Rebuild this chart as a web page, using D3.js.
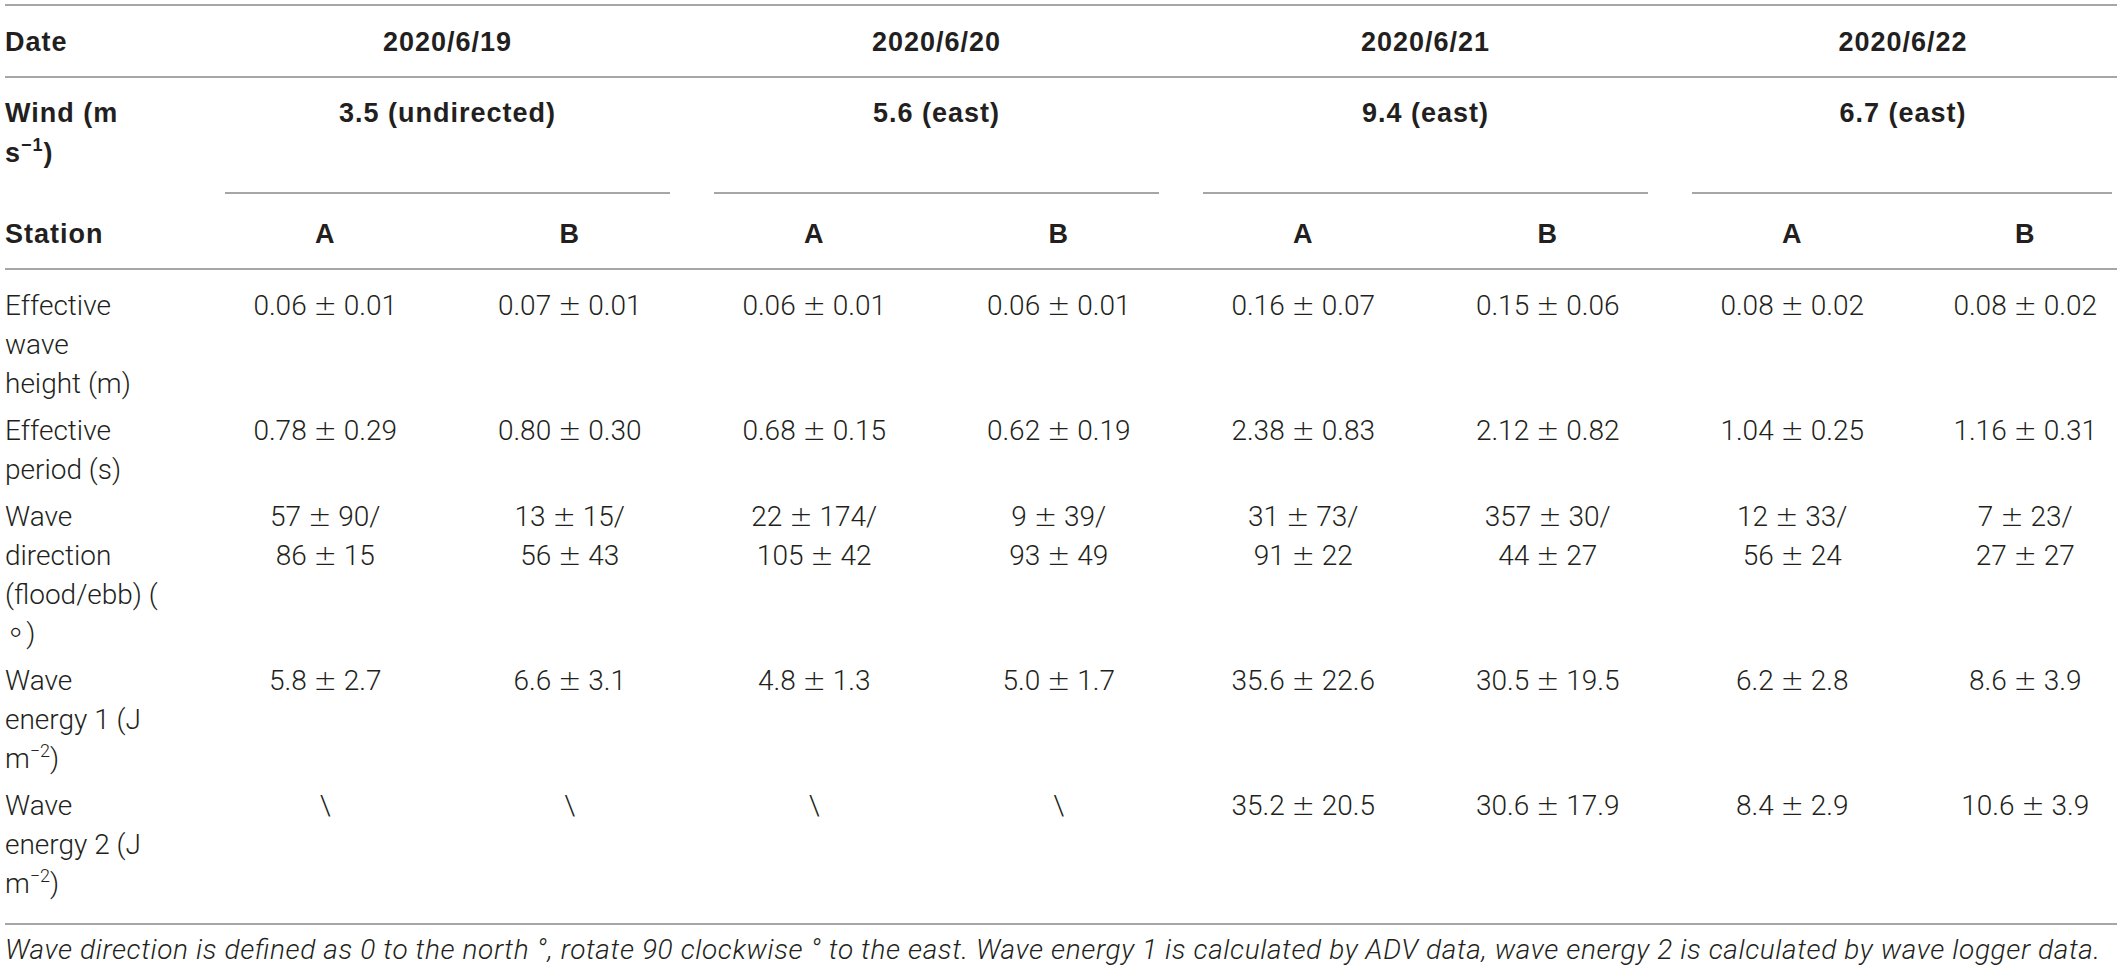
<!DOCTYPE html>
<html>
<head>
<meta charset="utf-8">
<script src="https://cdnjs.cloudflare.com/ajax/libs/d3/7.8.5/d3.min.js"></script>
<style>
  body { margin: 0; background: #fff; }
  svg { display: block; }
</style>
</head>
<body>
<svg id="table-svg" width="2117" height="972"></svg>
<script>
// table content
var dates = ['2020/6/19', '2020/6/20', '2020/6/21', '2020/6/22'];
var winds = ['3.5 (undirected)', '5.6 (east)', '9.4 (east)', '6.7 (east)'];
var stations = ['A', 'B', 'A', 'B', 'A', 'B', 'A', 'B'];

var waveHeight = ['0.06 ± 0.01', '0.07 ± 0.01', '0.06 ± 0.01', '0.06 ± 0.01',
                  '0.16 ± 0.07', '0.15 ± 0.06', '0.08 ± 0.02', '0.08 ± 0.02'];
var wavePeriod = ['0.78 ± 0.29', '0.80 ± 0.30', '0.68 ± 0.15', '0.62 ± 0.19',
                  '2.38 ± 0.83', '2.12 ± 0.82', '1.04 ± 0.25', '1.16 ± 0.31'];
var waveFlood  = ['57 ± 90/', '13 ± 15/', '22 ± 174/', '9 ± 39/',
                  '31 ± 73/', '357 ± 30/', '12 ± 33/', '7 ± 23/'];
var waveEbb    = ['86 ± 15', '56 ± 43', '105 ± 42', '93 ± 49',
                  '91 ± 22', '44 ± 27', '56 ± 24', '27 ± 27'];
var energy1    = ['5.8 ± 2.7', '6.6 ± 3.1', '4.8 ± 1.3', '5.0 ± 1.7',
                  '35.6 ± 22.6', '30.5 ± 19.5', '6.2 ± 2.8', '8.6 ± 3.9'];
var energy2    = ['\\', '\\', '\\', '\\',
                  '35.2 ± 20.5', '30.6 ± 17.9', '8.4 ± 2.9', '10.6 ± 3.9'];

// row labels, one array of lines per row; [text, superscript] pairs
var rowLabels = [
  [[['Effective']], [['wave']], [['height (m)']]],
  [[['Effective']], [['period (s)']]],
  [[['Wave']], [['direction']], [['(flood/ebb) (']], [['∘)']]],
  [[['Wave']], [['energy 1 (J']], [['m', '−2'], [')']]],
  [[['Wave']], [['energy 2 (J']], [['m', '−2'], [')']]]
];
var rowValues = [
  [waveHeight],
  [wavePeriod],
  [waveFlood, waveEbb],
  [energy1],
  [energy2]
];

var footnote = 'Wave direction is defined as 0 to the north °, rotate 90 clockwise ° to the east. ' +
  'Wave energy 1 is calculated by ADV data, wave energy 2 is calculated by wave logger data.';

var svg = d3.select('#table-svg');
var W = 2117;
var left = 5;
var rightClip = 2136;   // last column runs off the picture
var lineEnd = 2112;
var lineH = 39;
var rowPad = 8;

var boldFont = "'Liberation Sans', Arial, sans-serif";
var lightFont = "Roboto, 'Liberation Sans', sans-serif";
var symFont = "'DejaVu Sans', sans-serif";
var ink = '#231f20';
var rule = '#a6a6a6';

var colKeys = d3.range(stations.length);
var x = d3.scaleBand().domain(colKeys).range([203, 2159]);
var bw = x.bandwidth();

function colCenter(i) {
  return (x(i) + Math.min(x(i) + bw, rightClip)) / 2;
}
function groupCenter(g) {
  return (x(2 * g) + Math.min(x(2 * g + 1) + bw, rightClip)) / 2;
}

function hline(x1, x2, y) {
  svg.append('line')
    .attr('x1', x1).attr('x2', x2)
    .attr('y1', y).attr('y2', y)
    .attr('stroke', rule)
    .attr('stroke-width', 2);
}

function headText(tx, ty, str, anchor) {
  return svg.append('text')
    .attr('x', tx).attr('y', ty)
    .attr('text-anchor', anchor || 'middle')
    .style('font-family', boldFont)
    .style('font-weight', 'bold')
    .style('font-size', '27px')
    .style('letter-spacing', '1px')
    .style('fill', ink)
    .text(str);
}

function bodyText(tx, ty, anchor) {
  return svg.append('text')
    .attr('x', tx).attr('y', ty)
    .attr('text-anchor', anchor || 'middle')
    .style('font-family', lightFont)
    .style('font-weight', 300)
    .style('font-size', '28px')
    .style('fill', ink);
}

// pieces: [[text], [text, sup], ...]
function addPieces(t, pieces) {
  var back = 0;
  pieces.forEach(function(p) {
    var span = t.append('tspan').text(p[0]);
    if (p[0] === '∘)') {
      // thin ring, a little larger than the font's own
      span.text('');
      t.append('tspan')
        .style('font-family', symFont)
        .style('font-weight', 200)
        .style('font-size', '34px')
        .text('∘');
      t.append('tspan').text(')');
    }
    if (back) { span.attr('dy', back); back = 0; }
    if (p[1]) {
      t.append('tspan')
        .attr('dy', -11)
        .style('font-size', '18px')
        .text(p[1]);
      back = 11;
    }
  });
}

// "m ± s" with a wider plus-minus sign
function addValue(t, v) {
  var parts = v.split(' ± ');
  t.append('tspan').text(parts[0]);
  if (parts.length > 1) {
    t.append('tspan').text(' ');
    t.append('tspan')
      .style('font-family', symFont)
      .style('font-weight', 200)
      .text('±');
    t.append('tspan').text(' ' + parts[1]);
  }
}

// ---- header ----
hline(left, W, 5);
headText(left, 51, 'Date', 'start');
dates.forEach(function(d, g) {
  headText(groupCenter(g), 51, d);
});
hline(left, W, 77);

headText(left, 122, 'Wind (m', 'start');
var s1 = headText(left, 162, '', 'start');
addPieces(s1, [['s', '−1'], [')']]);
winds.forEach(function(w, g) {
  headText(groupCenter(g), 122, w);
  hline(x(2 * g) + 22, Math.min(x(2 * g + 1) + bw - 22, lineEnd), 193);
});

headText(left, 243, 'Station', 'start');
stations.forEach(function(s, i) {
  headText(colCenter(i), 243, s);
});
hline(left, W, 269);

// ---- body ----
var y0 = 315;
rowLabels.forEach(function(lines, r) {
  lines.forEach(function(pieces, k) {
    addPieces(bodyText(left, y0 + k * lineH, 'start'), pieces);
  });
  rowValues[r].forEach(function(vals, k) {
    vals.forEach(function(v, i) {
      addValue(bodyText(colCenter(i), y0 + k * lineH), v);
    });
  });
  y0 += lines.length * lineH + rowPad;
});

hline(left, W, 924);

svg.append('text')
  .attr('x', left).attr('y', 959)
  .attr('textLength', 2095)
  .attr('lengthAdjust', 'spacing')
  .style('font-family', lightFont)
  .style('font-weight', 300)
  .style('font-style', 'italic')
  .style('font-size', '28px')
  .style('fill', ink)
  .text(footnote);
</script>
</body>
</html>
